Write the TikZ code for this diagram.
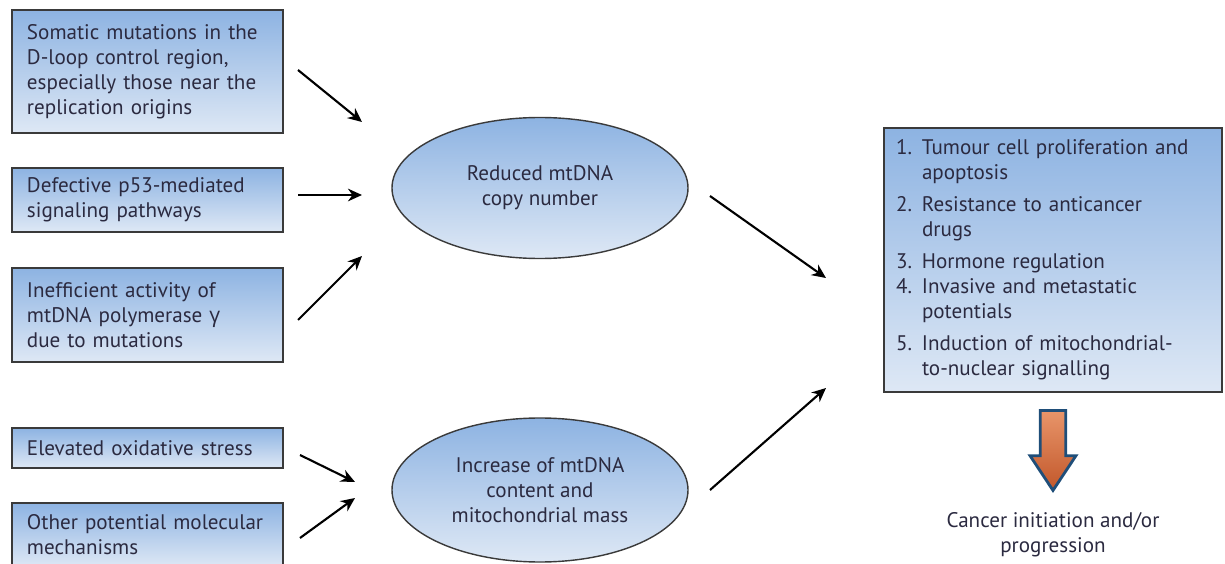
\documentclass[tikz,border=0pt]{standalone}
\usepackage{fontspec}
\setmainfont{PT Sans}
\newfontfamily\greekfont{Open Sans}
\usetikzlibrary{shapes.geometric,shapes.arrows,arrows.meta}

\definecolor{boxtop}{HTML}{8DB3E2}
\definecolor{boxbot}{HTML}{DEE8F5}
\definecolor{txtcol}{HTML}{2B2A40}
\definecolor{edgecol}{HTML}{3A3A3A}
\definecolor{bigtop}{HTML}{E8956A}
\definecolor{bigbot}{HTML}{C2572A}
\definecolor{bigline}{HTML}{1F4E79}

\newcommand\PX{0.025cm}

\tikzset{
  cause/.style={draw=edgecol, line width=1pt, top color=boxtop, bottom color=boxbot,
    text=txtcol, align=left, text width=241*\PX, inner xsep=15*\PX, inner ysep=0pt},
  effect/.style={ellipse, draw=edgecol, line width=1pt, top color=boxtop, bottom color=boxbot,
    text=txtcol, align=center, minimum width=296*\PX, inner sep=0pt},
  outbox/.style={draw=edgecol, line width=1pt, top color=boxtop, bottom color=boxbot,
    text=txtcol, minimum height=264*\PX, text width=314*\PX, inner xsep=12*\PX},
  link/.style={-{Stealth[length=10pt,width=9pt]}, line width=1.5pt, black}
}

\begin{document}
\begin{tikzpicture}[x=\PX, y=-\PX, font=\fontsize{15}{17.8}\selectfont]

\useasboundingbox (0,0) rectangle (1225,564);

% causes
\node[cause, minimum height=123*\PX] (somatic) at (147.5,71.5)
  {Somatic mutations in the\\D-loop control region,\\especially those near the\\replication origins};
\node[cause, minimum height=64*\PX] (ptf) at (147.5,200)
  {Defective p53-mediated\\signaling pathways};
\node[cause, minimum height=94*\PX] (polg) at (147.5,315)
  {Inefficient activity of\\mtDNA polymerase {\greekfont γ}\\due to mutations};
\node[cause, minimum height=40*\PX] (oxid) at (147.5,448)
  {Elevated oxidative stress};
\node[cause, minimum height=64*\PX] (other) at (147.5,535)
  {Other potential molecular\\mechanisms};

% mtDNA changes
\node[effect, minimum height=141*\PX] (reduced) at (540,188)
  {Reduced mtDNA\\copy number};
\node[effect, minimum height=144*\PX] (increase) at (540,490)
  {Increase of mtDNA\\content and\\mitochondrial mass};

% consequences
\node[outbox] (conseq) at (1053,260) {%
  \begin{tabular}{@{}p{0.65cm}@{}l@{}}
  1. & Tumour cell proliferation and\\
     & apoptosis\\[5pt]
  2. & Resistance to anticancer\\
     & drugs\\[5pt]
  3. & Hormone regulation\\
  4. & Invasive and metastatic\\
     & potentials\\[5pt]
  5. & Induction of mitochondrial-\\
     & to-nuclear signalling
  \end{tabular}};

\node[single arrow, shape border rotate=270, draw=bigline, line width=2pt,
  top color=bigtop, bottom color=bigbot, inner sep=11*\PX, minimum width=46*\PX,
  minimum height=80*\PX, single arrow tip angle=67, anchor=tail] (bigarrow) at (1053,409) {};

\node[text=txtcol, align=center] (cancer) at (1053,535)
  {Cancer initiation and/or\\progression};

% arrow ends
\coordinate (a1s) at (298,70);  \coordinate (a1e) at (362,122);
\coordinate (a2s) at (298,195); \coordinate (a2e) at (362,195);
\coordinate (a3s) at (298,320); \coordinate (a3e) at (362,256);
\coordinate (a4s) at (300,455); \coordinate (a4e) at (355,482);
\coordinate (a5s) at (300,538); \coordinate (a5e) at (355,498);
\coordinate (b1s) at (710,196); \coordinate (b1e) at (826,278);
\coordinate (b2s) at (710,490); \coordinate (b2e) at (826,388);

\draw[link] (a1s) -- (a1e);
\draw[link] (a2s) -- (a2e);
\draw[link] (a3s) -- (a3e);
\draw[link] (a4s) -- (a4e);
\draw[link] (a5s) -- (a5e);
\draw[link] (b1s) -- (b1e);
\draw[link] (b2s) -- (b2e);

\end{tikzpicture}
\end{document}
